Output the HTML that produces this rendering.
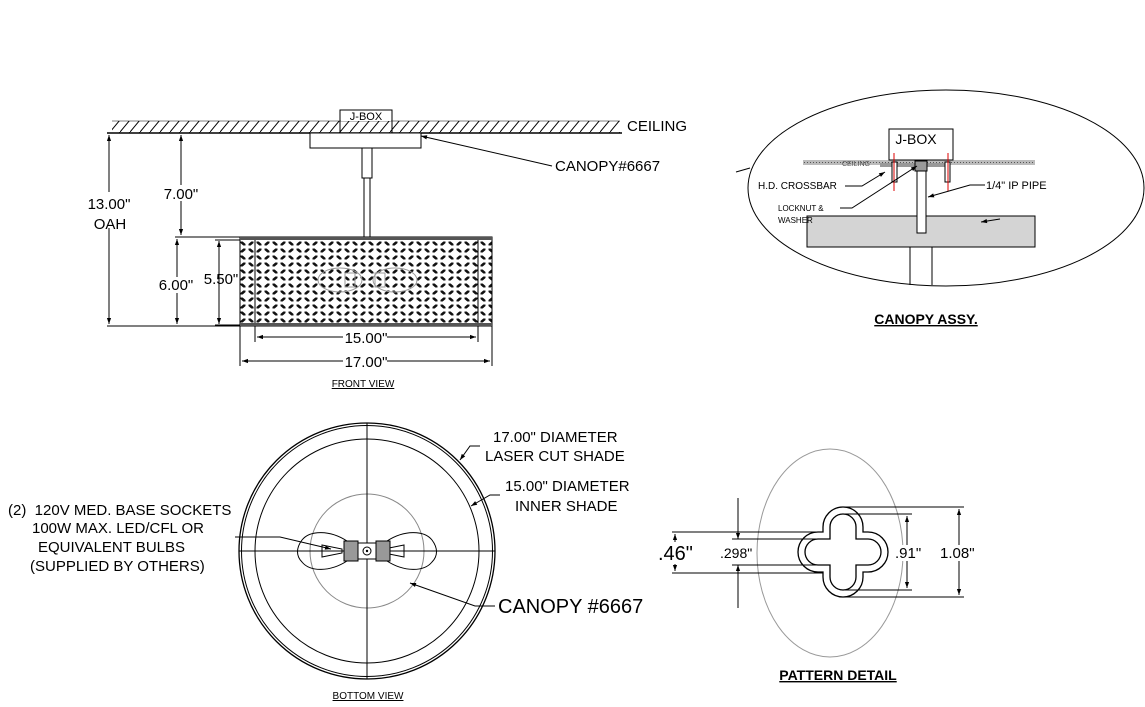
<!DOCTYPE html>
<html><head><meta charset="utf-8"><style>
html,body{margin:0;padding:0;background:#fff;}
svg{display:block;font-family:"Liberation Sans",Arial,sans-serif;}
</style></head><body>
<svg width="1145" height="707" viewBox="0 0 1145 707" xmlns="http://www.w3.org/2000/svg">
<defs>
<pattern id="hatch" width="10" height="12" patternUnits="userSpaceOnUse">
<line x1="0" y1="12" x2="10" y2="0" stroke="#000" stroke-width="1"/>
</pattern>
<pattern id="lat" x="255" y="240" width="16" height="14" patternUnits="userSpaceOnUse">
<rect width="16" height="14" fill="#fff"/>
<path d="M0 0 L16 14 M16 0 L0 14" stroke="#111" stroke-width="2.6"/>
<path d="M8 3 v8 M4 7 h8" stroke="#fff" stroke-width="3"/>
<path d="M0 -4 v8 M-4 0 h8 M16 -4 v8 M12 0 h8 M0 10 v8 M-4 14 h8 M16 10 v8 M12 14 h8" stroke="#fff" stroke-width="3"/>
</pattern>
<marker id="ar" viewBox="0 0 10 10" refX="10" refY="5" markerWidth="8" markerHeight="6" orient="auto-start-reverse" markerUnits="userSpaceOnUse"><path d="M0 1.5 L10 5 L0 8.5 z" fill="#000"/></marker>
<pattern id="gr" width="3" height="3" patternUnits="userSpaceOnUse"><rect width="3" height="3" fill="#bbb"/><rect width="1" height="1" fill="#555"/></pattern>
</defs>

<!-- FRONT VIEW -->
<rect x="112" y="121" width="508" height="12" fill="url(#hatch)"/>
<line x1="107" y1="133" x2="622" y2="133" stroke="#000" stroke-width="1.5"/>
<line x1="112" y1="121" x2="620" y2="121" stroke="#000" stroke-width="0.5"/>
<rect x="340" y="110" width="52" height="23" fill="none" stroke="#000"/>
<rect x="341" y="111" width="50" height="10" fill="#fff"/>
<text x="366" y="120" font-size="11" text-anchor="middle">J-BOX</text>
<text x="627" y="131" font-size="15">CEILING</text>
<rect x="310" y="133" width="111" height="15" fill="#fff" stroke="#000"/>
<rect x="362" y="148" width="10" height="30" fill="#fff" stroke="#000"/>
<rect x="364" y="178" width="6" height="59" fill="#fff" stroke="#000"/>
<line x1="421" y1="136" x2="552" y2="166" stroke="#000" marker-start="url(#ar)"/>
<text x="555" y="171" font-size="15">CANOPY#6667</text>

<rect x="240" y="237" width="252" height="89" fill="url(#lat)" stroke="#000"/>
<rect x="240" y="237" width="252" height="3" fill="#555"/>
<rect x="240" y="323" width="252" height="3" fill="#555"/>
<line x1="255" y1="240" x2="255" y2="323" stroke="#000"/>
<line x1="478" y1="240" x2="478" y2="323" stroke="#000"/>
<g stroke="#999" fill="none" stroke-width="1">
<ellipse cx="340" cy="280" rx="22" ry="12"/><ellipse cx="395" cy="280" rx="22" ry="12"/>
<rect x="345" y="273" width="10" height="14"/><rect x="375" y="273" width="10" height="14"/>
</g>

<g stroke="#000" stroke-width="1" fill="none">
<line x1="107" y1="326" x2="240" y2="326"/>
<line x1="175" y1="237" x2="240" y2="237"/>
<line x1="109" y1="135" x2="109" y2="324" marker-start="url(#ar)" marker-end="url(#ar)"/>
<line x1="181" y1="135" x2="181" y2="235" marker-start="url(#ar)" marker-end="url(#ar)"/>
<line x1="177" y1="239" x2="177" y2="324" marker-start="url(#ar)" marker-end="url(#ar)"/>
<line x1="219" y1="241" x2="219" y2="324" marker-start="url(#ar)" marker-end="url(#ar)"/>
<line x1="215" y1="240" x2="240" y2="240"/>
<line x1="215" y1="325" x2="240" y2="325"/>
<line x1="255" y1="326" x2="255" y2="342"/><line x1="478" y1="326" x2="478" y2="342"/>
<line x1="240" y1="326" x2="240" y2="366"/><line x1="492" y1="326" x2="492" y2="366"/>
<line x1="257" y1="337" x2="476" y2="337" marker-start="url(#ar)" marker-end="url(#ar)"/>
<line x1="242" y1="361" x2="490" y2="361" marker-start="url(#ar)" marker-end="url(#ar)"/>
</g>
<g font-size="15">
<rect x="86" y="192" width="48" height="36" fill="#fff"/>
<text x="109" y="209" text-anchor="middle">13.00"</text>
<text x="110" y="229" text-anchor="middle">OAH</text>
<rect x="160" y="185" width="42" height="16" fill="#fff"/>
<text x="181" y="199" text-anchor="middle">7.00"</text>
<rect x="156" y="277" width="42" height="16" fill="#fff"/>
<text x="176" y="290" text-anchor="middle">6.00"</text>
<text x="221" y="284" text-anchor="middle">5.50"</text>
<rect x="343" y="329" width="44" height="16" fill="#fff"/>
<text x="366" y="343" text-anchor="middle">15.00"</text>
<rect x="343" y="353" width="44" height="16" fill="#fff"/>
<text x="366" y="367" text-anchor="middle">17.00"</text>
</g>
<text x="363" y="387" font-size="10" text-anchor="middle" text-decoration="underline">FRONT VIEW</text>

<!-- CANOPY ASSY -->
<ellipse cx="946" cy="188" rx="198" ry="98" fill="none" stroke="#000"/>
<line x1="736" y1="172" x2="750" y2="168" stroke="#000"/>
<rect x="807" y="216" width="228" height="31" fill="#d4d4d4" stroke="#000"/>
<line x1="910" y1="247" x2="910" y2="285" stroke="#000"/>
<line x1="932" y1="247" x2="932" y2="285" stroke="#000"/>
<rect x="803" y="160" width="232" height="5" fill="url(#gr)"/>
<rect x="880" y="163" width="70" height="4" fill="#999"/>
<rect x="889" y="129" width="64" height="31" fill="#fff" stroke="#000"/>
<text x="916" y="144" font-size="14" text-anchor="middle">J-BOX</text>
<text x="842" y="166" font-size="7" fill="#555">CEILING</text>
<rect x="917" y="165" width="9" height="68" fill="#fff" stroke="#000"/>
<rect x="915" y="161" width="12" height="10" fill="#999" stroke="#000"/>
<rect x="892" y="162" width="5" height="20" fill="#fff" stroke="#000"/>
<rect x="945" y="162" width="5" height="20" fill="#fff" stroke="#000"/>
<line x1="894" y1="153" x2="894" y2="191" stroke="#d00"/>
<line x1="948" y1="153" x2="948" y2="191" stroke="#d00"/>
<g stroke="#000" fill="none">
<polyline points="845,186 862,186 885,172" marker-end="url(#ar)"/>
<polyline points="840,208 852,208 917,166" marker-end="url(#ar)"/>
<polyline points="985,185 970,185 928,197" marker-end="url(#ar)"/>
<line x1="1000" y1="219" x2="981" y2="222" marker-end="url(#ar)"/>
</g>
<text x="758" y="189" font-size="10">H.D. CROSSBAR</text>
<text x="778" y="211" font-size="8">LOCKNUT &amp;</text>
<text x="778" y="223" font-size="8">WASHER</text>
<text x="986" y="189" font-size="11">1/4" IP PIPE</text>
<text x="926" y="324" font-size="14" font-weight="bold" text-anchor="middle" text-decoration="underline">CANOPY ASSY.</text>

<!-- BOTTOM VIEW -->
<g fill="none" stroke="#000">
<circle cx="367" cy="551" r="128" stroke-width="1.3"/>
<circle cx="367" cy="551" r="125.5"/>
<circle cx="367" cy="551" r="112"/>
<circle cx="367" cy="551" r="57" stroke="#888"/>
<line x1="239" y1="551" x2="495" y2="551"/>
<line x1="367" y1="423" x2="367" y2="679"/>
<path d="M347 541 C330 530 310 530 302 540 C296 548 296 556 302 562 C310 572 330 572 347 561" />
<path d="M387 541 C404 530 424 530 432 540 C438 548 438 556 432 562 C424 572 404 572 387 561" />
<path d="M322 545 L342 549 L342 553 L322 557 Z M404 545 L384 549 L384 553 L404 557 Z"/>
</g>
<rect x="344" y="541" width="14" height="20" fill="#999" stroke="#000"/>
<rect x="376" y="541" width="14" height="20" fill="#999" stroke="#000"/>
<rect x="358" y="543" width="18" height="16" fill="#fff" stroke="#000"/>
<circle cx="367" cy="551" r="4" fill="#fff" stroke="#000"/>
<circle cx="367" cy="551" r="1.2"/>
<g stroke="#000" fill="none">
<polyline points="480,446 470,446 460,460" marker-end="url(#ar)"/>
<polyline points="500,495 490,495 471,506" marker-end="url(#ar)"/>
<polyline points="235,537 280,537 331,549" marker-end="url(#ar)"/>
<polyline points="495,606 475,606 410,583" marker-end="url(#ar)"/>
</g>
<g font-size="15">
<text x="493" y="442">17.00" DIAMETER</text>
<text x="485" y="461">LASER CUT SHADE</text>
<text x="505" y="491">15.00" DIAMETER</text>
<text x="515" y="511">INNER SHADE</text>
<text x="8" y="515">(2)&#160;&#160;120V MED. BASE SOCKETS</text>
<text x="32" y="533">100W MAX. LED/CFL OR</text>
<text x="38" y="552">EQUIVALENT BULBS</text>
<text x="30" y="571">(SUPPLIED BY OTHERS)</text>
</g>
<text x="498" y="613" font-size="20">CANOPY #6667</text>
<text x="368" y="699" font-size="10" text-anchor="middle" text-decoration="underline">BOTTOM VIEW</text>

<!-- PATTERN DETAIL -->
<ellipse cx="830" cy="553" rx="73" ry="104" fill="none" stroke="#999"/>
<g fill="none" stroke="#000">
<g transform="translate(-10,0)">
<path d="M833 532 L833 527 A20 20 0 0 1 873 527 L873 532 L878 532 A20 20 0 0 1 878 572 L873 572 L873 577 A20 20 0 0 1 833 577 L833 572 L828 572 A20 20 0 0 1 828 532 Z" stroke-width="1.3"/>
<path d="M840 539 L840 527 A13 13 0 0 1 866 527 L866 539 L878 539 A13 13 0 0 1 878 565 L866 565 L866 577 A13 13 0 0 1 840 577 L840 565 L828 565 A13 13 0 0 1 828 539 Z" stroke-width="1.3"/>
</g>
<line x1="672" y1="532" x2="823" y2="532"/>
<line x1="672" y1="573" x2="823" y2="573"/>
<line x1="732" y1="539" x2="830" y2="539"/>
<line x1="732" y1="565" x2="830" y2="565"/>
<line x1="675" y1="534" x2="675" y2="571" marker-start="url(#ar)" marker-end="url(#ar)"/>
<line x1="738" y1="498" x2="738" y2="539" marker-end="url(#ar)"/>
<line x1="738" y1="608" x2="738" y2="565" marker-end="url(#ar)"/>
<line x1="843" y1="514" x2="912" y2="514"/>
<line x1="843" y1="590" x2="912" y2="590"/>
<line x1="843" y1="507" x2="964" y2="507"/>
<line x1="843" y1="597" x2="964" y2="597"/>
<line x1="907" y1="516" x2="907" y2="588" marker-start="url(#ar)" marker-end="url(#ar)"/>
<line x1="959" y1="509" x2="959" y2="595" marker-start="url(#ar)" marker-end="url(#ar)"/>
</g>
<rect x="650" y="542" width="40" height="22" fill="#fff"/>
<text x="658" y="560" font-size="20">.46"</text>
<text x="720" y="558" font-size="14">.298"</text>
<rect x="896" y="545" width="26" height="16" fill="#fff"/>
<text x="895" y="558" font-size="15">.91"</text>
<rect x="940" y="545" width="38" height="16" fill="#fff"/>
<text x="940" y="558" font-size="15">1.08"</text>
<text x="838" y="680" font-size="14" font-weight="bold" text-anchor="middle" text-decoration="underline">PATTERN DETAIL</text>
</svg>
</body></html>
